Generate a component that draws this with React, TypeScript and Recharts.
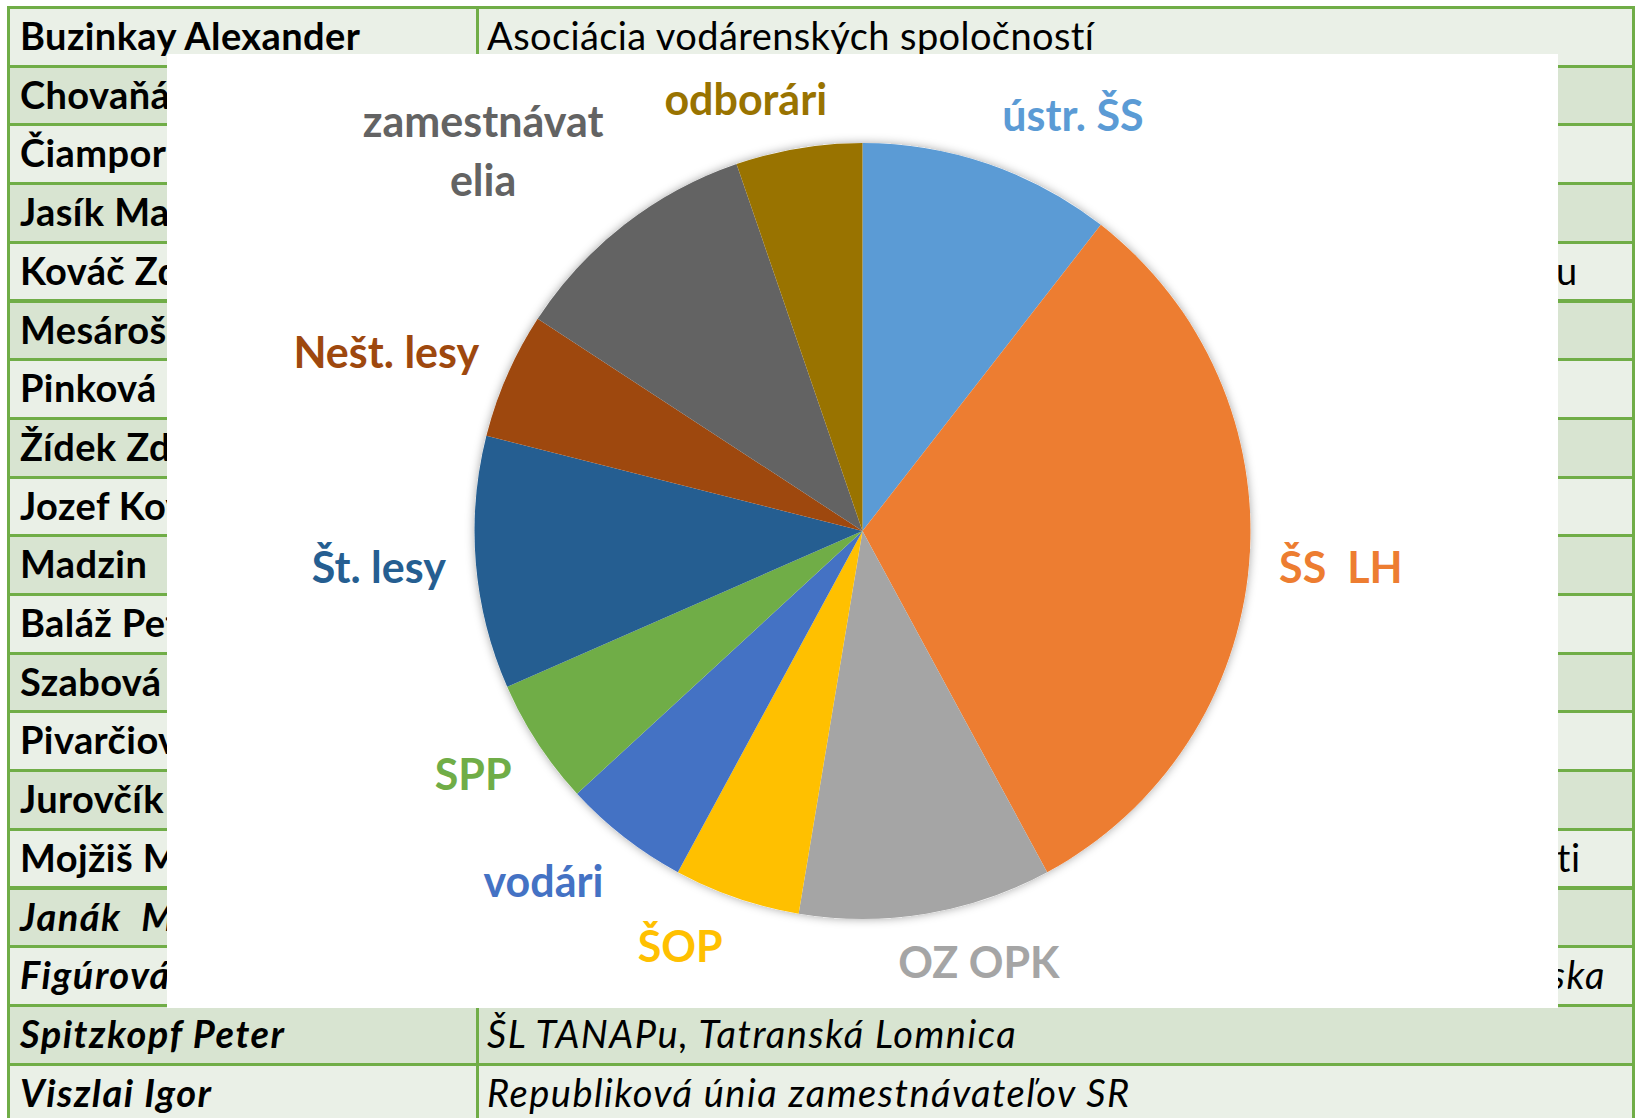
import React from "react";
import { PieChart, Pie, Cell } from "recharts";

// pie data
const categories = [
  "ústr. ŠS",
  "ŠS  LH",
  "OZ OPK",
  "ŠOP",
  "vodári",
  "SPP",
  "Št. lesy",
  "Nešt. lesy",
  "zamestnávatelia",
  "odborári",
];
const counts = [2, 6, 2, 1, 1, 1, 2, 1, 2, 1];
const sliceColors = [
  "#5B9BD5",
  "#ED7D31",
  "#A5A5A5",
  "#FFC000",
  "#4472C4",
  "#70AD47",
  "#255E91",
  "#9E480E",
  "#636363",
  "#997300",
];

// background table
const memberNames = [
  "Buzinkay Alexander",
  "Chovaňák",
  "Čiampor",
  "Jasík Marek",
  "Kováč Zdenko",
  "Mesároš",
  "Pinková",
  "Žídek Zdenko",
  "Jozef Kováč",
  "Madzin",
  "Baláž Peter",
  "Szabová",
  "Pivarčiová",
  "Jurovčík",
  "Mojžiš Marek",
  "Janák  Milan",
  "Figúrová",
  "Spitzkopf Peter",
  "Viszlai Igor",
];
const memberOrgs = [
  "Asociácia vodárenských spoločností",
  "",
  "",
  "",
  "Národné lesnícke centrum vo Zvolene ústav lesníckeho výskumu",
  "",
  "",
  "",
  "",
  "",
  "",
  "",
  "",
  "",
  "Vodárenská spoločnosť SR a Asociácia vodárenských spoločnosti",
  "",
  "Únia regionálnych združení vlastníkov neštátnych lesov Slovenska",
  "ŠL TANAPu, Tatranská Lomnica",
  "Republiková únia zamestnávateľov SR",
];
const italicFrom = 15;

const pieData = categories.map((name, i) => ({ name, value: counts[i] }));
const totalData = [{ name: "all", value: counts.reduce((a, b) => a + b, 0) }];

const ROW_H = 58.7;
const TABLE_FS = 38;
const LABEL_FS = 43;
const LINE_GAP = 59;
const WRAP_AT = 250;

let measureCtx: CanvasRenderingContext2D | null = null;
const measure = (text: string, font: string) => {
  if (!measureCtx) measureCtx = document.createElement("canvas").getContext("2d");
  if (!measureCtx) return text.length * LABEL_FS * 0.55;
  measureCtx.font = font;
  return measureCtx.measureText(text).width;
};

const wrapText = (text: string, font: string) => {
  if (measure(text, font) <= WRAP_AT) return [text];
  const lines: string[] = [];
  let cur = "";
  for (const ch of text) {
    if (cur && measure(cur + ch, font) > WRAP_AT) {
      lines.push(cur);
      cur = ch;
    } else cur += ch;
  }
  if (cur) lines.push(cur);
  return lines;
};

const clamp = (v: number) => Math.max(-1, Math.min(1, v));

const renderLabel = (props: any) => {
  const { cx, cy, midAngle, outerRadius, name, index } = props;
  const rad = (-midAngle * Math.PI) / 180;
  const ux = Math.cos(rad);
  const uy = Math.sin(rad);
  const r = outerRadius + 24;
  const ax = cx + r * ux;
  const ay = cy + r * uy;
  const font = `bold ${LABEL_FS}px Lato`;
  const lines = wrapText(name, font);
  const w = Math.max(...lines.map((l) => measure(l, font)));
  const capH = LABEL_FS * 0.72;
  const hw = w / 2 + 6;
  const hh = ((lines.length - 1) * LINE_GAP) / 2 + capH / 2 + 10;
  const x = ax + clamp(ux * 3.4) * hw;
  const y = ay + clamp(uy * 1.3) * hh;
  const top = y - ((lines.length - 1) * LINE_GAP) / 2 + capH / 2;
  return (
    <text
      key={`lbl-${index}`}
      textAnchor="middle"
      fill={sliceColors[index % sliceColors.length]}
      fontFamily="Lato"
      fontWeight="bold"
      fontSize={LABEL_FS}
      style={{ whiteSpace: "pre" }}
    >
      {lines.map((l, i) => (
        <tspan key={i} x={x} y={top + i * LINE_GAP}>
          {l}
        </tspan>
      ))}
    </text>
  );
};

export default function App() {
  return (
    <div
      style={{
        position: "absolute",
        left: 0,
        top: 0,
        width: 1635,
        height: 1118,
        overflow: "hidden",
        background: "#fff",
        fontFamily: "Lato, sans-serif",
      }}
    >
      {/* table behind the chart */}
      {memberNames.map((name, i) => {
        const italic = i >= italicFrom;
        return (
          <div
            key={name}
            style={{
              position: "absolute",
              left: 7,
              top: 6 + i * ROW_H,
              width: 1628,
              height: ROW_H + 3,
              boxSizing: "border-box",
              border: "3px solid #70AD47",
              background: i % 2 ? "#D8E4D1" : "#EAF0E7",
              fontSize: TABLE_FS,
              lineHeight: `${TABLE_FS}px`,
              letterSpacing: italic ? 1.5 : 0.4,
              color: "#000",
              whiteSpace: "pre",
              fontStyle: italic ? "italic" : "normal",
            }}
          >
            <div
              style={{
                position: "absolute",
                left: 466,
                top: -3,
                bottom: -3,
                width: 3,
                background: "#70AD47",
              }}
            />
            <span style={{ position: "absolute", left: 10, top: 7, fontWeight: "bold" }}>
              {name}
            </span>
            <span style={{ position: "absolute", left: 477, top: 7 }}>
              {memberOrgs[i]}
            </span>
          </div>
        );
      })}

      {/* chart */}
      <div
        style={{
          position: "absolute",
          left: 167,
          top: 54,
          width: 1391,
          height: 954,
          background: "#fff",
        }}
      >
        <PieChart width={1391} height={954}>
          <defs>
            <filter id="pieShadow" x="-20%" y="-20%" width="140%" height="140%">
              <feDropShadow dx="0" dy="0" stdDeviation="5" floodColor="#000" floodOpacity="0.35" />
            </filter>
          </defs>
          <Pie
            data={totalData}
            dataKey="value"
            cx="50%"
            cy="50%"
            outerRadius={388}
            startAngle={90}
            endAngle={-270}
            fill="#fff"
            stroke="none"
            label={false}
            labelLine={false}
            isAnimationActive={false}
            style={{ filter: "url(#pieShadow)" }}
          />
          <Pie
            data={pieData}
            dataKey="value"
            nameKey="name"
            cx="50%"
            cy="50%"
            outerRadius={388}
            startAngle={90}
            endAngle={-270}
            stroke="none"
            label={renderLabel}
            labelLine={false}
            isAnimationActive={false}
          >
            {pieData.map((_, index) => (
              <Cell key={`cell-${index}`} fill={sliceColors[index % sliceColors.length]} />
            ))}
          </Pie>
        </PieChart>
      </div>
    </div>
  );
}
